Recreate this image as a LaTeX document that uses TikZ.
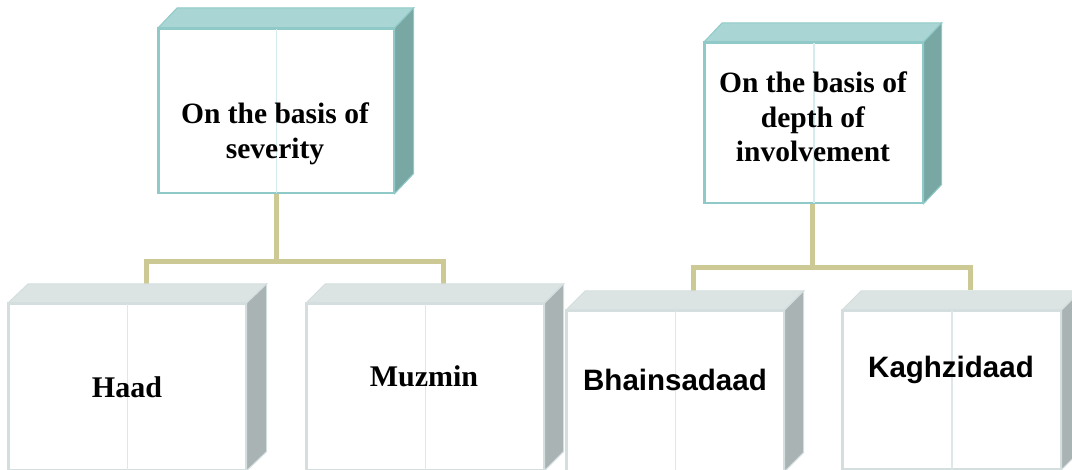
\documentclass[tikz,border=0pt]{standalone}
\usepackage{fontspec}
\setmainfont{Liberation Serif}
\newfontfamily\sansb{Liberation Sans}
\usetikzlibrary{calc}
\definecolor{tealtop}{HTML}{A9D6D4}
\definecolor{tealside}{HTML}{79A8A4}
\definecolor{tealedge}{HTML}{8FCAC8}
\definecolor{tealmid}{HTML}{D6ECEC}
\definecolor{greytop}{HTML}{DCE4E3}
\definecolor{greyside}{HTML}{A9B3B4}
\definecolor{greyedge}{HTML}{D4DEDE}
\definecolor{greymid}{HTML}{DEE8E8}
\definecolor{conncol}{HTML}{CDC995}
\tikzset{
  conn/.style={draw=conncol, line width=5pt},
  front/.style={draw=#1, fill=white, line width=1.6pt, rectangle, inner sep=0pt, anchor=north west},
  toplabel/.style={font=\bfseries\fontsize{29.5}{34.5}\selectfont, align=center},
  serlabel/.style={font=\bfseries\fontsize{30}{34}\selectfont},
  sanlabel/.style={font=\sansb\bfseries\fontsize{29.5}{34}\selectfont},
}
% #1 name, #2 x, #3 y, #4 w, #5 h, #6 dx, #7 dy, #8 colour prefix
\newcommand\cubebox[8]{%
  \node[front=#8edge, minimum width=#4pt, minimum height=#5pt] (#1) at (#2,#3) {};
  \fill[#8top, draw=#8edge, line width=1pt] (#1.north west) -- ++(#6,-#7) -- ($(#1.north east)+(#6,-#7)$) -- (#1.north east) -- cycle;
  \fill[#8side, draw=#8edge, line width=1pt] (#1.north east) -- ++(#6,-#7) -- ($(#1.south east)+(#6,-#7)$) -- (#1.south east) -- cycle;
  \draw[#8mid, line width=1.5pt] (#1.north) -- (#1.south);
  \draw[#8edge, line width=1.6pt] (#1.north west) rectangle (#1.south east);
}
\begin{document}
\begin{tikzpicture}[x=1pt,y=-1pt]
\useasboundingbox (0,0) rectangle (1072,470);
% connector anchor points
\coordinate (j1) at (276,262);
\coordinate (haadin) at (146,284);
\coordinate (muzin) at (443,284);
\coordinate (j2) at (812,268);
\coordinate (bhain) at (693,291);
\coordinate (kagin) at (970,290);
\draw[conn] (276,192) -- (j1);
\draw[conn] (haadin) |- (j1) -| (muzin);
\draw[conn] (812,202) -- (j2);
\draw[conn] (bhain) |- (j2) -| (kagin);
% boxes
\cubebox{sev}{158}{28}{235}{164}{19}{20}{teal}
\cubebox{dep}{704}{42}{218}{160}{18}{19}{teal}
\cubebox{haad}{8}{303}{237}{166}{20}{19}{grey}
\cubebox{muz}{306}{303}{237}{166}{19}{19}{grey}
\cubebox{bha}{566}{310}{217}{160}{19}{19}{grey}
\cubebox{kag}{842}{310}{218}{158}{19}{19}{grey}
% labels
\node[toplabel] (sevt) at (275,134) {On the basis of\\severity};
\node[toplabel] (dept) at (813,117) {On the basis of\\depth of\\involvement};
\node[serlabel] (haadt) at (127,387) {Haad};
\node[serlabel] (muzt) at (424,376) {Muzmin};
\node[sanlabel] (bhat) at (675,380) {Bhainsadaad};
\node[sanlabel] (kagt) at (951,370) {Kaghzidaad};
\end{tikzpicture}
\end{document}
